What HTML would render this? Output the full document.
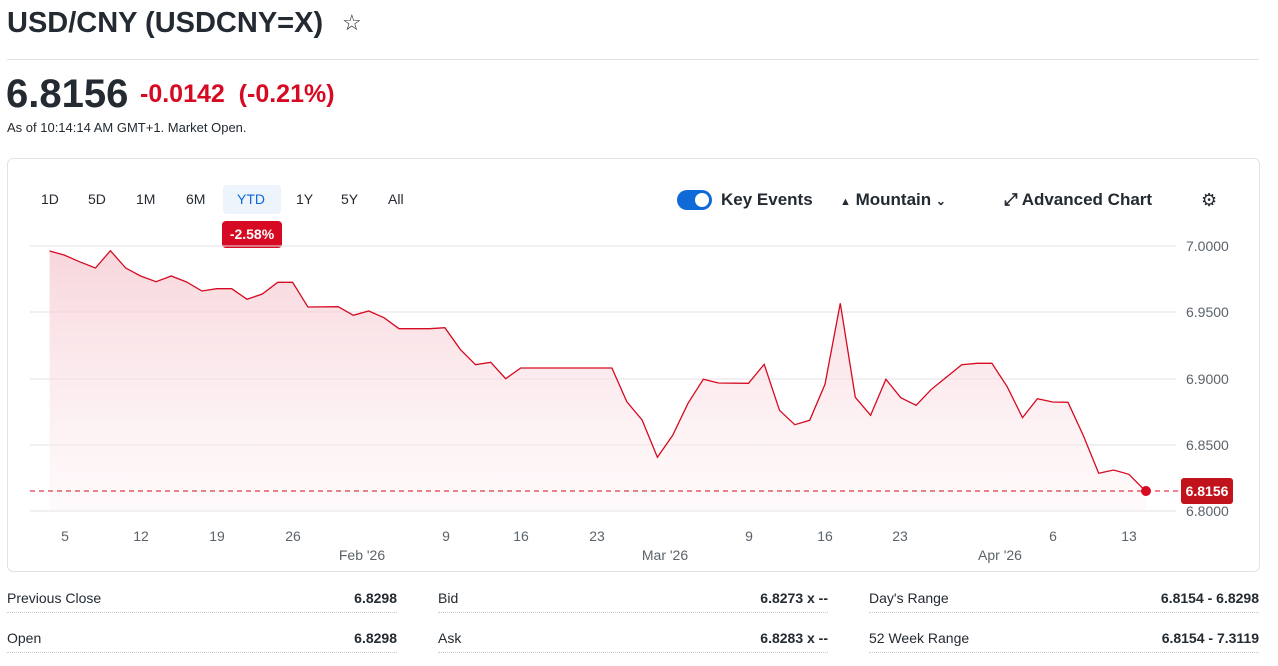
<!DOCTYPE html>
<html><head><meta charset="utf-8"><style>
body{margin:0;width:1278px;height:666px;background:#fff;font-family:"Liberation Sans",sans-serif;color:#232a31;position:relative;overflow:hidden}
.a{position:absolute;white-space:nowrap}
.tab{font-size:14px;color:#232a31}
.row{position:absolute;font-size:14px;border-bottom:1px dotted #ccc;height:26px}
</style></head><body>
<div class="a" style="left:7px;top:7px;font-size:29px;font-weight:bold">USD/CNY (USDCNY=X)</div>
<div class="a" style="left:342px;top:10px;font-size:22px">☆</div>
<div class="a" style="left:7px;top:59px;width:1252px;border-top:1px solid #e0e4e9"></div>
<div class="a" style="left:6px;top:72px;font-size:40px;font-weight:bold">6.8156</div>
<div class="a" style="left:140px;top:80px;font-size:25px;font-weight:bold;color:#d60a22">-0.0142 &nbsp;(-0.21%)</div>
<div class="a" style="left:7px;top:120px;font-size:13px">As of 10:14:14 AM GMT+1. Market Open.</div>
<div class="a" style="left:7px;top:158px;width:1251px;height:412px;border:1px solid #e0e4e9;border-radius:6px"></div>
<div class="a tab" style="left:41px;top:191px">1D</div>
<div class="a tab" style="left:88px;top:191px">5D</div>
<div class="a tab" style="left:136px;top:191px">1M</div>
<div class="a tab" style="left:186px;top:191px">6M</div>
<div class="a" style="left:223px;top:185px;width:58px;height:29px;background:#eef4fc;border-radius:4px"></div>
<div class="a tab" style="left:237px;top:191px;color:#0f69d6">YTD</div>
<div class="a tab" style="left:296px;top:191px">1Y</div>
<div class="a tab" style="left:341px;top:191px">5Y</div>
<div class="a tab" style="left:388px;top:191px">All</div>
<div class="a" style="left:222px;top:221px;width:60px;height:27px;background:#d60a22;border-radius:4px;color:#fff;font-size:14px;font-weight:bold;text-align:center;line-height:27px">-2.58%</div>
<div class="a" style="left:677px;top:190px;width:35px;height:20px;background:#0f69d6;border-radius:10px"><div style="position:absolute;right:3px;top:3px;width:14px;height:14px;background:#fff;border-radius:50%"></div></div>
<div class="a" style="left:721px;top:190px;font-size:17px;font-weight:bold">Key Events</div>
<div class="a" style="left:840px;top:190px;font-size:17px;font-weight:bold"><span style="font-size:11px">▲</span> Mountain <span style="font-size:12px">⌄</span></div>
<div class="a" style="left:1004px;top:190px;font-size:17px;font-weight:bold">⤢ Advanced Chart</div>
<div class="a" style="left:1201px;top:190px;font-size:18px">⚙</div>
<svg class="a" style="left:0;top:0" width="1278" height="666">
<defs><linearGradient id="g" x1="0" y1="0" x2="0" y2="1"><stop offset="0" stop-color="#f5c9d0" stop-opacity=".75"/><stop offset="1" stop-color="#fdf2f4" stop-opacity=".4"/></linearGradient></defs>
<g stroke="#e0e2e6" stroke-width="1"><line x1="30" x2="1176" y1="246" y2="246"/><line x1="30" x2="1176" y1="312" y2="312"/><line x1="30" x2="1176" y1="379" y2="379"/><line x1="30" x2="1176" y1="445" y2="445"/><line x1="30" x2="1176" y1="511" y2="511"/></g>
<polygon fill="url(#g)" points="49.6,251 64.1,255 79.4,261.7 95.5,268 110.4,250.7 125.7,268 140.6,276 156,281.7 171.3,276 186.6,282 201.9,291 216.8,288.7 231.7,288.7 247,299.3 262.3,294 277.7,282.3 292.6,282.3 307.9,307 338.1,306.7 353.4,315.3 368.7,311 384,317.7 399,328.7 429.6,328.7 444.9,327.7 460.2,349.3 475.5,364.7 490.8,362.3 505.7,378.7 520.7,368 611.9,368 626.8,401.7 642.1,420 657.4,457.3 672.7,435.3 688,403.3 703.3,379.3 718.6,383 748.5,383.3 764.2,364.3 779.5,410.3 794.8,424.7 809.7,420.3 825,384.3 840.3,303.3 855.3,397.3 870.6,415.3 885.9,379.3 900.8,397.7 916.1,405.3 931.4,389.3 946.3,377.3 961.7,364.7 977,363.3 991.9,363.3 1007.2,386.7 1022.5,417.7 1037.4,398.7 1052.7,402 1068,402.3 1083.4,435.7 1098.7,473.3 1113.6,470 1128.9,474.3 1145.7,491.3 1145.7,511 49.6,511"/>
<polyline fill="none" stroke="#d60a22" stroke-width="1.3" points="49.6,251 64.1,255 79.4,261.7 95.5,268 110.4,250.7 125.7,268 140.6,276 156,281.7 171.3,276 186.6,282 201.9,291 216.8,288.7 231.7,288.7 247,299.3 262.3,294 277.7,282.3 292.6,282.3 307.9,307 338.1,306.7 353.4,315.3 368.7,311 384,317.7 399,328.7 429.6,328.7 444.9,327.7 460.2,349.3 475.5,364.7 490.8,362.3 505.7,378.7 520.7,368 611.9,368 626.8,401.7 642.1,420 657.4,457.3 672.7,435.3 688,403.3 703.3,379.3 718.6,383 748.5,383.3 764.2,364.3 779.5,410.3 794.8,424.7 809.7,420.3 825,384.3 840.3,303.3 855.3,397.3 870.6,415.3 885.9,379.3 900.8,397.7 916.1,405.3 931.4,389.3 946.3,377.3 961.7,364.7 977,363.3 991.9,363.3 1007.2,386.7 1022.5,417.7 1037.4,398.7 1052.7,402 1068,402.3 1083.4,435.7 1098.7,473.3 1113.6,470 1128.9,474.3 1145.7,491.3"/>
<line x1="30" x2="1180" y1="491" y2="491" stroke="#d60a22" stroke-dasharray="5,4" stroke-width="1"/>
<circle cx="1146" cy="491" r="5" fill="#d60a22"/>
<g font-family="Liberation Sans" font-size="14" fill="#5b636a"><text x="1186" y="251">7.0000</text><text x="1186" y="317">6.9500</text><text x="1186" y="384">6.9000</text><text x="1186" y="450">6.8500</text><text x="1186" y="516">6.8000</text></g>
<rect x="1181" y="478" width="52" height="26" rx="3" fill="#c0131b"/>
<text x="1207" y="496" font-family="Liberation Sans" font-size="14" font-weight="bold" fill="#fff" text-anchor="middle">6.8156</text>
<g font-family="Liberation Sans" font-size="14" fill="#5b636a" text-anchor="middle"><text x="65" y="541">5</text><text x="141" y="541">12</text><text x="217" y="541">19</text><text x="293" y="541">26</text><text x="446" y="541">9</text><text x="521" y="541">16</text><text x="597" y="541">23</text><text x="749" y="541">9</text><text x="825" y="541">16</text><text x="900" y="541">23</text><text x="1053" y="541">6</text><text x="1129" y="541">13</text><text x="362" y="560">Feb '26</text><text x="665" y="560">Mar '26</text><text x="1000" y="560">Apr '26</text></g>
</svg>
<div class="row" style="left:7px;top:586px;width:390px"><span class="a" style="left:0;top:4px">Previous Close</span><span class="a" style="right:0;top:4px;font-weight:bold">6.8298</span></div>
<div class="row" style="left:438px;top:586px;width:390px"><span class="a" style="left:0;top:4px">Bid</span><span class="a" style="right:0;top:4px;font-weight:bold">6.8273 x --</span></div>
<div class="row" style="left:869px;top:586px;width:390px"><span class="a" style="left:0;top:4px">Day's Range</span><span class="a" style="right:0;top:4px;font-weight:bold">6.8154 - 6.8298</span></div>
<div class="row" style="left:7px;top:626px;width:390px"><span class="a" style="left:0;top:4px">Open</span><span class="a" style="right:0;top:4px;font-weight:bold">6.8298</span></div>
<div class="row" style="left:438px;top:626px;width:390px"><span class="a" style="left:0;top:4px">Ask</span><span class="a" style="right:0;top:4px;font-weight:bold">6.8283 x --</span></div>
<div class="row" style="left:869px;top:626px;width:390px"><span class="a" style="left:0;top:4px">52 Week Range</span><span class="a" style="right:0;top:4px;font-weight:bold">6.8154 - 7.3119</span></div>
</body></html>
